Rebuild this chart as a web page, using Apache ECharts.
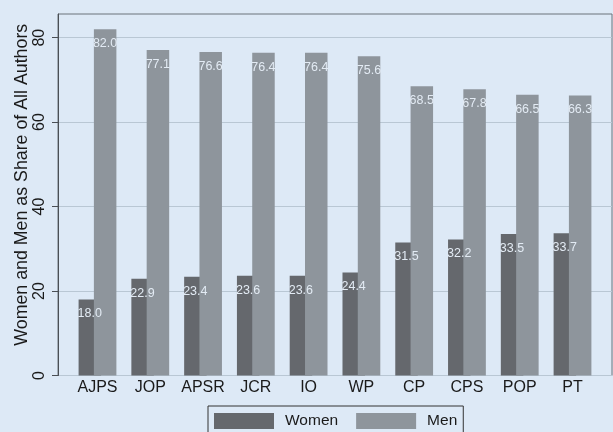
<!DOCTYPE html>
<html>
<head>
<meta charset="utf-8">
<script src="https://cdn.jsdelivr.net/npm/echarts@6/dist/echarts.min.js"></script>
<style>
html,body{margin:0;padding:0;background:#dde9f6;}
#chart{width:613px;height:432px;}
</style>
</head>
<body>
<div id="chart"></div>
<script>
const categories = ['AJPS','JOP','APSR','JCR','IO','WP','CP','CPS','POP','PT'];
const women = [18.0,22.9,23.4,23.6,23.6,24.4,31.5,32.2,33.5,33.7];
const men = [82.0,77.1,76.6,76.4,76.4,75.6,68.5,67.8,66.5,66.3];
const yTicks = [0,20,40,60,80];

const FONT = "'Liberation Sans', Arial, Helvetica, sans-serif";
const chart = echarts.init(document.getElementById('chart'), null, {renderer:'canvas'});
const labelCfg = {
  show: true,
  position: [-1, 8],
  align: 'left',
  verticalAlign: 'top',
  color: '#e3ebf4',
  fontSize: 12.5,
  fontFamily: FONT,
  formatter: p => p.value.toFixed(1)
};
chart.setOption({
  backgroundColor: '#dde9f6',
  animation: false,
  grid: [
    {left: 58, right: 1, top: 14, bottom: 56.5, show: true, borderColor: '#6b727a', borderWidth: 1,
     backgroundColor: 'transparent', outerBoundsMode: 'none', containLabel: false},
    {left: 71.1, right: 14.1, top: 14, bottom: 56.5, outerBoundsMode: 'none', containLabel: false}
  ],
  xAxis: [
    {gridIndex: 0, type: 'value', show: false, min: 0, max: 1},
    {gridIndex: 1, type: 'category', data: categories,
     axisLine: {show: false}, axisTick: {show: false},
     axisLabel: {interval: 0, fontSize: 16, color: '#1a1a1a', fontFamily: FONT, margin: 4}}
  ],
  yAxis: [
    {gridIndex: 0, type: 'value', min: 0, max: 85.6, interval: 20,
     name: 'Women and Men as Share of All Authors', nameLocation: 'middle', nameGap: 27,
     nameMoveOverlap: false,
     nameTextStyle: {fontSize: 17.8, color: '#1a1a1a', fontFamily: FONT, padding: [0,0,0,20]},
     axisLine: {show: true, lineStyle: {color: '#4a4f55', width: 1}},
     axisTick: {show: true, length: 6, lineStyle: {color: '#4a4f55'}, customValues: yTicks},
     axisLabel: {rotate: 90, fontSize: 16, color: '#1a1a1a', fontFamily: FONT, margin: 10, customValues: yTicks},
     splitLine: {show: true, lineStyle: {color: '#b9c7d4', width: 1}}},
    {gridIndex: 1, type: 'value', min: 0, max: 85.6, show: false, splitLine: {show: false}}
  ],
  legend: {
    data: ['Women','Men'], left: 208, top: 406, orient: 'horizontal',
    selectedMode: false, icon: 'rect', itemWidth: 60, itemHeight: 16, itemGap: 18,
    borderColor: '#333', borderWidth: 1, padding: [7, 6, 10, 6],
    textStyle: {fontSize: 15.5, color: '#1a1a1a', fontFamily: FONT, padding: [0,0,0,6]}
  },
  series: [
    {name: 'Women', type: 'bar', xAxisIndex: 1, yAxisIndex: 1, data: women,
     barWidth: 22.5, barGap: '-32%', itemStyle: {color: '#65686d'}, label: labelCfg},
    {name: 'Men', type: 'bar', xAxisIndex: 1, yAxisIndex: 1, data: men,
     barWidth: 22.5, barGap: '-32%', itemStyle: {color: '#8e959c'}, label: labelCfg}
  ]
});
</script>
</body>
</html>
